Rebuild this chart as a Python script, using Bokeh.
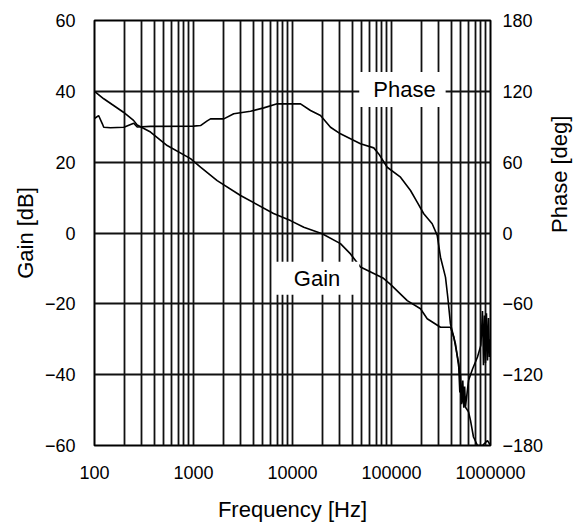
import math
from bokeh.plotting import figure
from bokeh.models import Range1d, LinearAxis, FixedTicker, Label
from bokeh.embed import file_html
from bokeh.resources import INLINE

# ---- data ----
x_ticks = [100, 1000, 10000, 100000, 1000000]
x_tick_labels = ["100", "1000", "10000", "100000", "1000000"]
x_minor = [m * d for d in [100, 1000, 10000, 100000] for m in range(2, 10)]
gain_ticks = [-60, -40, -20, 0, 20, 40, 60]
phase_ticks = [-180, -120, -60, 0, 60, 120, 180]

gain_freq = [100, 124, 156, 196, 248, 270, 368, 542, 933, 1177,
             1735, 2985, 6430, 9540, 13000, 19950, 30500, 38500, 48600, 83000,
             97700, 144200, 196300, 229400, 312600, 394000, 426000, 478000, 518000, 559000,
             600000, 628000, 673000, 739000, 830000, 933000, 1000000]
gain_db = [40, 37.9, 36, 34.1, 31.8, 30.5, 28.5, 24.7, 21.0, 18.6,
           14.8, 10.6, 5.5, 3.5, 1.6, -0.2, -3, -5.9, -9.6, -12.8,
           -14.5, -19.1, -21.4, -24.2, -26.6, -26.6, -29.4, -36.9, -47.3, -49.2,
           -50.5, -52.9, -57.6, -60, -60, -58.6, -60]

phase_freq = [100, 110, 120, 124, 145, 198, 249, 270, 368, 1000,
              1177, 1375, 1485, 2023, 2550, 3767, 5130, 7000, 12050, 15200,
              19180, 24200, 30500, 38500, 48600, 66200, 74400, 90500, 123300, 155600,
              181700, 211800, 257600, 289600, 312600, 351000, 370300, 394000, 443000, 478000,
              490000, 497700, 510000, 525000, 537200, 548000, 559000, 600000, 660000, 739000,
              800000, 830000, 849000, 870000, 889000, 910000, 933000, 955000, 975000, 1000000]
phase_deg = [97, 99.5, 92.5, 89.6, 89.1, 89.6, 93, 89.8, 90.3, 90.5,
             91, 95, 96.7, 96.7, 101, 103.2, 106, 109.4, 109.4, 103.8,
             99.5, 89.6, 84, 79.8, 75.6, 72.1, 67, 55.7, 47.3, 36,
             26.1, 16.3, 7.8, -2, -20.5, -37.4, -54.4, -77, -94, -113.6,
             -135, -120, -145, -125, -148, -130, -147, -125, -115, -105,
             -95, -66, -112, -70, -110, -68, -108, -72, -105, -90]

FONT = "Liberation Sans"

p = figure(width=587, height=525, x_axis_type="log",
           x_range=Range1d(100, 1000000), y_range=Range1d(-60, 60),
           output_backend="svg", toolbar_location=None,
           min_border_left=94, min_border_right=97,
           min_border_top=20, min_border_bottom=80)
p.extra_y_ranges = {"phase": Range1d(-180, 180)}

p.outline_line_color = "black"
p.outline_line_width = 2
p.outline_line_alpha = 1.0
p.background_fill_color = "white"
p.border_fill_color = "white"

# axes
p.xaxis.ticker = FixedTicker(ticks=x_ticks, minor_ticks=x_minor)
p.xaxis.major_label_overrides = {t: l for t, l in zip(x_ticks, x_tick_labels)}
p.yaxis.ticker = FixedTicker(ticks=gain_ticks)
p.xaxis.axis_label = "Frequency [Hz]"
p.yaxis.axis_label = "Gain [dB]"

ax_r = LinearAxis(y_range_name="phase", ticker=FixedTicker(ticks=phase_ticks),
                  axis_label="Phase [deg]")
p.add_layout(ax_r, "right")

for ax in [p.xaxis[0], p.yaxis[0], ax_r]:
    ax.axis_line_color = None
    ax.major_tick_line_color = None
    ax.minor_tick_line_color = None
    ax.major_tick_out = 0
    ax.major_tick_in = 0
    ax.minor_tick_out = 0
    ax.minor_tick_in = 0
    ax.major_label_text_font = FONT
    ax.major_label_text_font_size = "18px"
    ax.major_label_text_color = "black"
    ax.axis_label_text_font = FONT
    ax.axis_label_text_font_size = "22px"
    ax.axis_label_text_font_style = "normal"
    ax.axis_label_text_color = "black"

p.xaxis.major_label_standoff = 20
p.xaxis.axis_label_standoff = 15
p.yaxis.major_label_standoff = 19
p.yaxis.axis_label_standoff = 4
ax_r.major_label_standoff = 12
ax_r.axis_label_standoff = 13
ax_r.axis_label_orientation = math.pi / 2

# grid
p.xgrid.grid_line_color = "#111111"
p.xgrid.grid_line_width = 1.8
p.xgrid.grid_line_alpha = 1.0
p.xgrid.minor_grid_line_color = "#111111"
p.xgrid.minor_grid_line_width = 1.8
p.ygrid.grid_line_color = "#111111"
p.ygrid.grid_line_width = 1.8
p.ygrid.grid_line_alpha = 1.0

# curves
p.line(gain_freq, gain_db, line_color="black", line_width=1.6)
p.line(phase_freq, phase_deg, line_color="black", line_width=1.6, y_range_name="phase")

# labels
for txt, fx, fy, pad in [("Phase", 129000, 40.5, dict(left=14, right=10, top=5, bottom=5)),
                         ("Gain", 17500, -12.8, dict(left=20, right=19, top=4, bottom=4))]:
    p.add_layout(Label(x=fx, y=fy, text=txt, text_font=FONT, text_font_size="22px",
                       text_align="center", text_baseline="middle", text_color="black",
                       background_fill_color="white", background_fill_alpha=1.0,
                       padding=pad))

open("out.html", "w").write(file_html(p, INLINE))
